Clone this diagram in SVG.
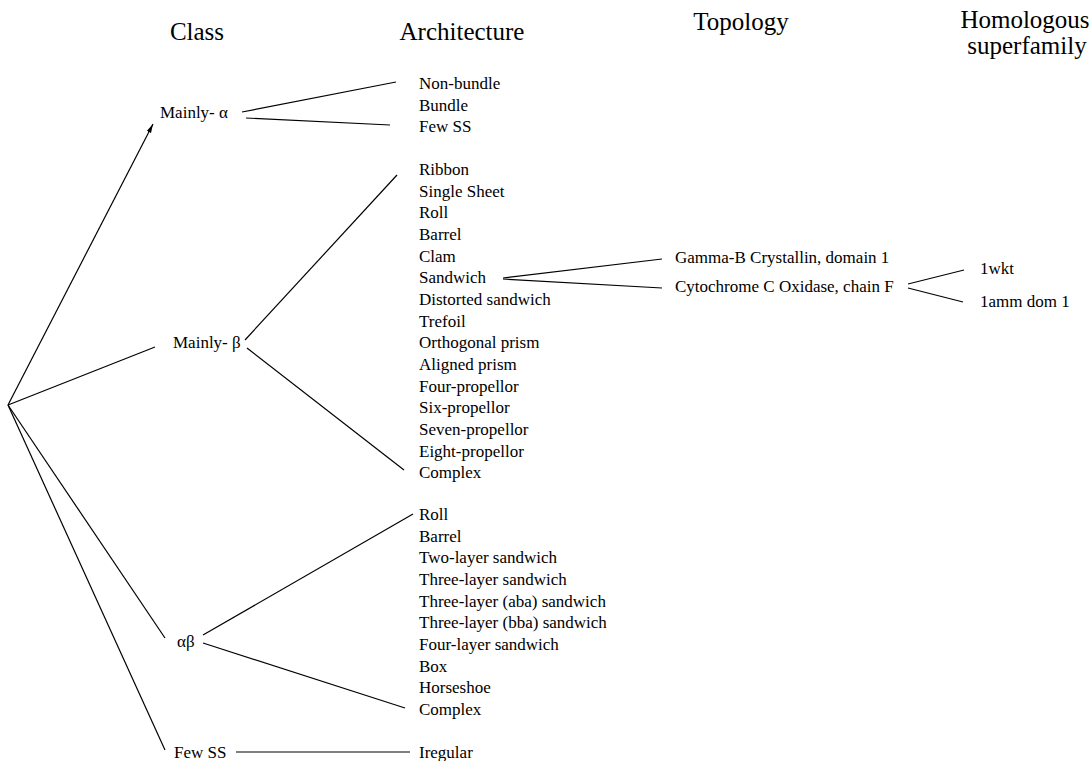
<svg xmlns="http://www.w3.org/2000/svg" width="1091" height="761" viewBox="0 0 1091 761">
<defs>
<style>
text{font-family:"Liberation Serif","Times New Roman",serif;fill:#000}
.h{font-size:25px}
.c{font-size:17px}
.i{font-size:17px}
.ln{stroke:#000;stroke-width:1.2;fill:none}
</style>
<marker id="arr" markerWidth="10" markerHeight="6" refX="9" refY="3" orient="auto" markerUnits="userSpaceOnUse">
<path d="M0,0.6 L9,3 L0,5.4 Z" fill="#000"/>
</marker>
</defs>
<rect width="1091" height="761" fill="#fff"/>
<g id="headers">
<text class="h" x="197" y="40" text-anchor="middle">Class</text>
<text class="h" x="462" y="40" text-anchor="middle">Architecture</text>
<text class="h" x="741" y="30" text-anchor="middle">Topology</text>
<text class="h" x="1025" y="28" text-anchor="middle">Homologous</text>
<text class="h" x="1027" y="54" text-anchor="middle">superfamily</text>
</g>
<g id="connectors">
<line class="ln" x1="8" y1="405" x2="153" y2="124" marker-end="url(#arr)"/>
<line class="ln" x1="8" y1="405" x2="155" y2="347"/>
<line class="ln" x1="8" y1="405" x2="165" y2="638"/>
<line class="ln" x1="8" y1="405" x2="165" y2="750"/>
<line class="ln" x1="242" y1="112" x2="396" y2="82"/>
<line class="ln" x1="246" y1="118" x2="390" y2="125"/>
<line class="ln" x1="245" y1="340" x2="397" y2="175"/>
<line class="ln" x1="247" y1="348" x2="404" y2="470"/>
<line class="ln" x1="203" y1="635" x2="413" y2="514"/>
<line class="ln" x1="203" y1="643" x2="405" y2="708"/>
<line class="ln" x1="236" y1="752" x2="410" y2="752"/>
<line class="ln" x1="503" y1="278" x2="662" y2="259"/>
<line class="ln" x1="503" y1="279" x2="662" y2="288"/>
<line class="ln" x1="908" y1="284" x2="964" y2="270"/>
<line class="ln" x1="908" y1="288" x2="963" y2="302"/>
</g>
<g id="class-mainly-alpha"><text class="c" x="160" y="118">Mainly- α</text></g>
<g id="class-mainly-beta"><text class="c" x="173" y="348">Mainly- β</text></g>
<g id="class-alpha-beta"><text class="c" x="177" y="647">αβ</text></g>
<g id="class-few-ss"><text class="c" x="174" y="758">Few SS</text></g>
<g id="arch-alpha">
<text class="i" x="419" y="89">Non-bundle</text>
<text class="i" x="419" y="110.7">Bundle</text>
<text class="i" x="419" y="132.3">Few SS</text>
</g>
<g id="arch-beta">
<text class="i" x="419" y="175">Ribbon</text>
<text class="i" x="419" y="196.6">Single Sheet</text>
<text class="i" x="419" y="218.3">Roll</text>
<text class="i" x="419" y="240">Barrel</text>
<text class="i" x="419" y="261.6">Clam</text>
<text class="i" x="419" y="283.3">Sandwich</text>
<text class="i" x="419" y="305">Distorted sandwich</text>
<text class="i" x="419" y="326.6">Trefoil</text>
<text class="i" x="419" y="348.3">Orthogonal prism</text>
<text class="i" x="419" y="370">Aligned prism</text>
<text class="i" x="419" y="391.6">Four-propellor</text>
<text class="i" x="419" y="413.3">Six-propellor</text>
<text class="i" x="419" y="435">Seven-propellor</text>
<text class="i" x="419" y="456.6">Eight-propellor</text>
<text class="i" x="419" y="478.3">Complex</text>
</g>
<g id="arch-alphabeta">
<text class="i" x="419" y="520">Roll</text>
<text class="i" x="419" y="541.7">Barrel</text>
<text class="i" x="419" y="563.3">Two-layer sandwich</text>
<text class="i" x="419" y="585">Three-layer sandwich</text>
<text class="i" x="419" y="606.6">Three-layer (aba) sandwich</text>
<text class="i" x="419" y="628.3">Three-layer (bba) sandwich</text>
<text class="i" x="419" y="650">Four-layer sandwich</text>
<text class="i" x="419" y="671.6">Box</text>
<text class="i" x="419" y="693.3">Horseshoe</text>
<text class="i" x="419" y="715">Complex</text>
</g>
<g id="arch-few"><text class="i" x="419" y="758">Iregular</text></g>
<g id="topology">
<text class="i" x="675" y="263">Gamma-B Crystallin, domain 1</text>
<text class="i" x="675" y="292">Cytochrome C Oxidase, chain F</text>
</g>
<g id="superfamily">
<text class="i" x="980" y="274">1wkt</text>
<text class="i" x="980" y="307">1amm dom 1</text>
</g>
</svg>
